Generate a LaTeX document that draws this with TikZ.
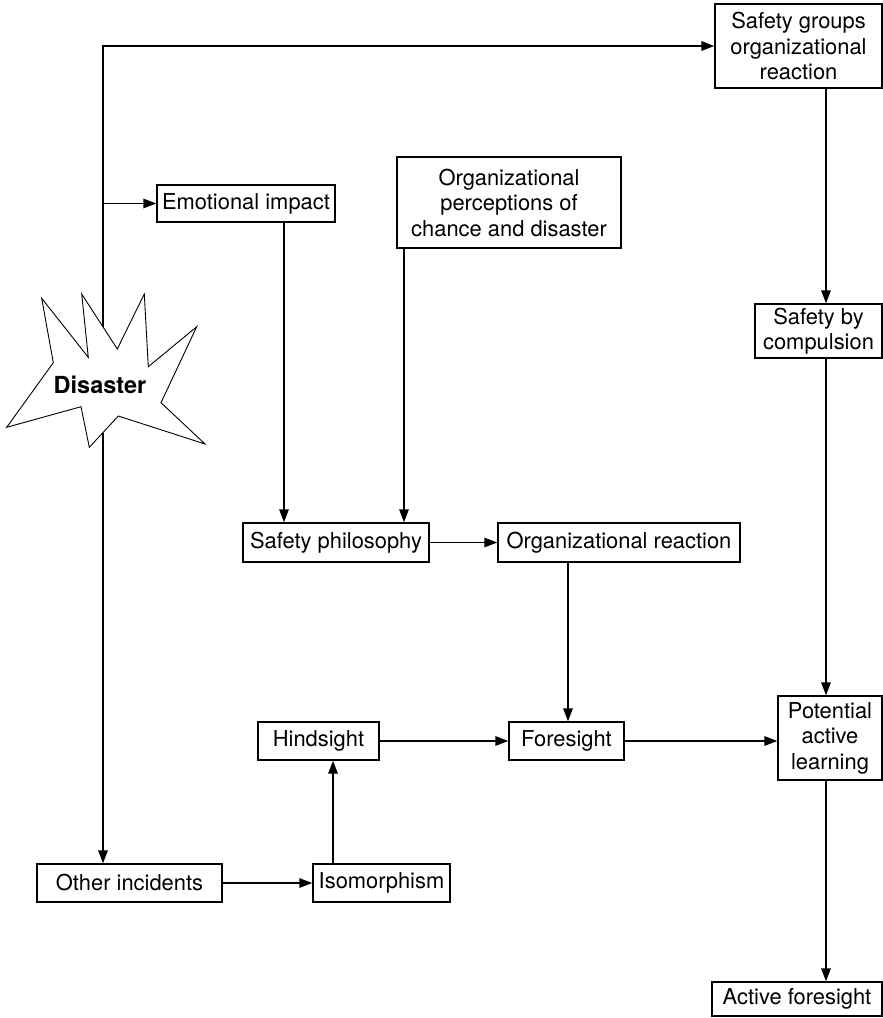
\documentclass[tikz,border=0pt]{standalone}
\usepackage{fontspec}
\setmainfont{TeX Gyre Heros}
\usetikzlibrary{arrows.meta}
\begin{document}
\begin{tikzpicture}[x=1pt,y=-1pt,
  box/.style={draw,line width=1.4pt,inner sep=0pt,align=center,
    font=\fontsize{21.9}{25.5}\selectfont},
  arr/.style={line width=1.6pt,-{Triangle[length=13pt,width=9.5pt]}}]
\useasboundingbox (0,0) rectangle (883,1018);

% boxes
\node[box,minimum width=167pt,minimum height=84pt] (sg) at (798.5,46) {Safety groups\\organizational\\reaction};
\node[box,minimum width=178pt,minimum height=37pt] (emo) at (246,203.5) {Emotional impact};
\node[box,minimum width=224pt,minimum height=91pt] (perc) at (509,202.5) {Organizational\\perceptions of\\chance and disaster};
\node[box,minimum width=127pt,minimum height=54pt] (comp) at (818.5,331) {Safety by\\compulsion};
\node[box,minimum width=186pt,minimum height=39pt] (phil) at (336,542.5) {Safety philosophy};
\node[box,minimum width=242pt,minimum height=39pt] (orgr) at (619,542.5) {Organizational reaction};
\node[box,minimum width=121pt,minimum height=38pt] (hind) at (318.5,741) {Hindsight};
\node[box,minimum width=115pt,minimum height=38pt] (fore) at (566.5,741) {Foresight};
\node[box,minimum width=104pt,minimum height=84pt] (pot) at (830,738) {Potential\\active\\learning};
\node[box,minimum width=185pt,minimum height=38pt] (other) at (129.5,883) {Other incidents};
\node[box,minimum width=137pt,minimum height=38pt] (iso) at (381.5,883) {Isomorphism};
\node[box,minimum width=170pt,minimum height=34pt] (act) at (797,999) {Active foresight};

% starburst
\draw[line width=0.9pt,fill=white]
  (41.7,298.3) -- (53.3,362.7) -- (6.7,427.3) -- (81,406.7) -- (89.3,447.3)
  -- (118.3,416) -- (205,444) -- (161,402.7) -- (196.7,326.7) -- (148.3,366.7)
  -- (144.3,294) -- (117.3,349) -- (81.7,294) -- (88.3,357.3) -- cycle;
\node[font=\fontsize{23.5}{27}\selectfont\bfseries] (dis) at (100,385) {Disaster};

% trunk from the burst
\coordinate (bt) at (103,327);
\coordinate (bb) at (103,432.5);
\coordinate (top) at (103,46);
\coordinate (j1) at (103,203.5);
\draw[arr] (bt) -- (top) -- (sg.west);
\draw[arr] (j1) -- (emo.west);
\draw[arr] (bb) -- (other.north -| bb);

% middle column
\coordinate (xe) at (284,0);
\coordinate (xp) at (404,0);
\coordinate (xo) at (568,0);
\coordinate (xi) at (333,0);
\coordinate (xr) at (826,0);
\draw[arr] (emo.south -| xe) -- (phil.north -| xe);
\draw[arr] (perc.south -| xp) -- (phil.north -| xp);
\draw[arr] (phil.east) -- (orgr.west);
\draw[arr] (orgr.south -| xo) -- (fore.north -| xo);
\draw[arr] (hind.east) -- (fore.west);
\draw[arr] (fore.east) -- (pot.west |- fore.east);
\draw[arr] (other.east) -- (iso.west);
\draw[arr] (iso.north -| xi) -- (hind.south -| xi);

% right column
\draw[arr] (sg.south -| xr) -- (comp.north -| xr);
\draw[arr] (comp.south -| xr) -- (pot.north -| xr);
\draw[arr] (pot.south -| xr) -- (act.north -| xr);
\end{tikzpicture}
\end{document}
